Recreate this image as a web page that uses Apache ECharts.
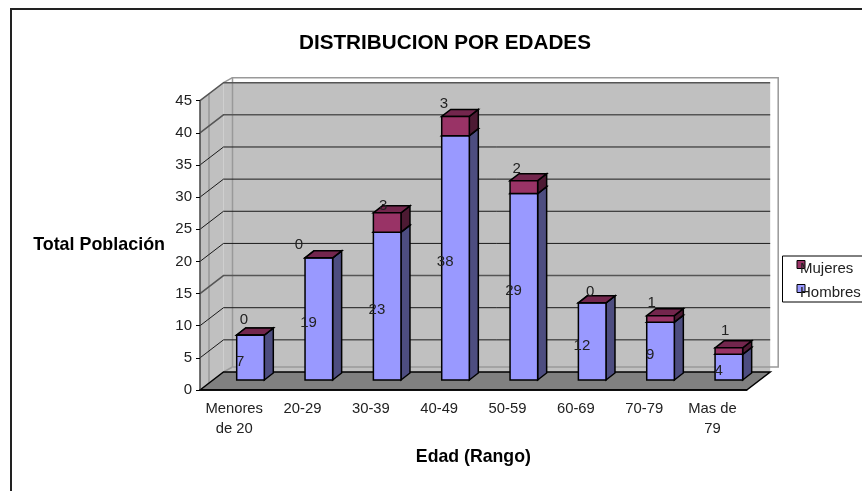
<!doctype html>
<html lang="es">
<head>
    <meta charset="UTF-8">
    <script src="https://cdn.jsdelivr.net/npm/echarts@6/dist/echarts.min.js"></script>
    <title>Distribucion por edades</title>
    <style>
        html, body { margin: 0; padding: 0; background: #fff; }
    </style>
</head>
<body>
<div id="main" style="width: 862px;height:491px;"></div>
<script>
    // datos de la grafica
    var categories = ['Menores\nde 20', '20-29', '30-39', '40-49', '50-59', '60-69', '70-79', 'Mas de\n79'];
    var hombres = [7, 19, 23, 38, 29, 12, 9, 4];
    var mujeres = [0, 0, 3, 3, 2, 0, 1, 1];
    var yTicks = [5, 10, 15, 20, 25, 30, 35, 40, 45];

    // medidas del falso 3D, en pixeles
    var wallDx = 23.5, wallDy = 18;    // fondo de la caja
    var frameDx = 32.5, frameDy = 23;  // marco gris detras de la pared
    var barDx = 9, barDy = 7;          // fondo de cada barra
    var barShiftX = 36.7, barShiftY = 10, barWidth = 27.6;
    // Excel coloca las etiquetas de arriba un poco donde quiere
    var topLabelDx = [7.3, -6, 9.7, 2.3, 6.7, 11.7, 5, 10];
    var topLabelDy = [-15, -13, -7, -13, -12, -11, -13, -17];

    var fontName = '"Liberation Sans", Arial, sans-serif';
    var textColor = '#222';

    function poly(points, fill, lineWidth, stroke) {
        return {
            type: 'polygon',
            shape: {points: points},
            style: {fill: fill, stroke: stroke || '#000', lineWidth: lineWidth}
        };
    }

    function line(points, color, width) {
        return {
            type: 'polyline',
            shape: {points: points},
            style: {fill: 'none', stroke: color, lineWidth: width}
        };
    }

    // paredes, suelo y marco gris
    function renderWalls(params, api) {
        var box = params.coordSys;
        var x0 = box.x, x1 = box.x + box.width;
        var top = box.y, bottom = box.y + box.height;
        var fx = x0 + frameDx, fy = top - frameDy, fb = bottom - frameDy, fr = x1 + frameDx - 1;
        var midX = x0 + 9, midDy = 9 * wallDy / wallDx;
        return {
            type: 'group',
            children: [
                poly([[x0, top], [x0 + wallDx, top - wallDy], [x0 + wallDx, bottom - wallDy], [x0, bottom]], '#c0c0c0', 0, 'none'),
                poly([[x0 + wallDx, top - wallDy], [x1 + wallDx, top - wallDy], [x1 + wallDx, bottom - wallDy], [x0 + wallDx, bottom - wallDy]], '#c0c0c0', 0, 'none'),
                line([[fx, fb], [fx, fy], [fr, fy], [fr, fb], [fx, fb]], '#999', 1.5),
                line([[x0 + wallDx, top - wallDy], [fx, fy]], '#999', 1.5),
                line([[x0 + wallDx, bottom - wallDy], [fx, fb]], '#999', 1.5),
                line([[midX, top - midDy], [midX, bottom - midDy]], '#999', 1.5),
                poly([[x0, bottom], [x0 + wallDx, bottom - wallDy], [x1 + wallDx, bottom - wallDy], [x1, bottom]], '#808080', 1.5)
            ]
        };
    }

    // lineas de division, pasan por la pared izquierda y la del fondo
    function renderGrid(params, api) {
        var box = params.coordSys;
        var y = api.coord([0, api.value(0)])[1];
        var strong = api.value(0) === 40 || api.value(0) === 45 || api.value(0) === 15;
        return line([
            [box.x, y],
            [box.x + wallDx, y - wallDy],
            [box.x + box.width + wallDx, y - wallDy]
        ], strong ? '#555' : '#1a1a1a', strong ? 1.5 : 1);
    }

    function barShape(api, index, base, topValue, colors) {
        var catWidth = api.size([1, 0])[0];
        var left = api.coord([index, 0])[0] - catWidth / 2 + barShiftX;
        var right = left + barWidth;
        var yBase = api.coord([index, base])[1] - barShiftY;
        var yTop = api.coord([index, topValue])[1] - barShiftY;
        return {
            left: left,
            yBase: yBase,
            yTop: yTop,
            children: [
                poly([[right, yBase], [right + barDx, yBase - barDy], [right + barDx, yTop - barDy], [right, yTop]], colors.side, 1.5),
                poly([[left, yTop], [left + barDx, yTop - barDy], [right + barDx, yTop - barDy], [right, yTop]], colors.top, 1.5),
                poly([[left, yBase], [right, yBase], [right, yTop], [left, yTop]], colors.front, 1.5)
            ]
        };
    }

    function label(text, x, y) {
        return {
            type: 'text',
            style: {
                x: x, y: y, text: String(text), fill: textColor,
                font: '15px ' + fontName, align: 'center', verticalAlign: 'middle'
            }
        };
    }

    function renderHombres(params, api) {
        var i = api.value(0), v = api.value(1);
        var bar = barShape(api, i, 0, v, {front: '#9999ff', side: '#4d4d80', top: '#7a7acc'});
        bar.children.push(label(v, bar.left + 3.5, (bar.yBase + bar.yTop) / 2 + 4));
        return {type: 'group', children: bar.children};
    }

    function renderMujeres(params, api) {
        var i = api.value(0), base = api.value(1), v = api.value(2);
        var bar = barShape(api, i, base, base + v, {front: '#993366', side: '#4d1a33', top: '#73264d'});
        bar.children.push(label(v, bar.left + topLabelDx[i], bar.yTop + topLabelDy[i]));
        return {type: 'group', children: bar.children};
    }

    var myChart = echarts.init(document.getElementById('main'));

    var option = {
        animation: false,
        backgroundColor: '#fff',
        textStyle: {fontFamily: fontName, color: textColor},
        title: {
            text: 'DISTRIBUCION POR EDADES',
            left: 294,
            top: 28,
            textStyle: {fontFamily: fontName, fontSize: 20.7, fontWeight: 'bold', color: '#000'}
        },
        legend: {
            data: ['Mujeres', 'Hombres'],
            orient: 'vertical',
            left: 796.5,
            top: 260,
            padding: 0,
            itemGap: 6,
            itemWidth: 8,
            itemHeight: 17,
            // el cuadrito queda arriba y el texto mas abajo, como en el original
            icon: 'path://M0,0L8,0L8,8L0,8Z M0,17L0,17',
            itemStyle: {borderColor: '#000', borderWidth: 1},
            textStyle: {fontFamily: fontName, fontSize: 15, color: textColor, padding: [0, 0, 0, -10]}
        },
        graphic: [{
            type: 'rect',
            silent: true,
            z: -10,
            shape: {x: 11, y: 9, width: 900, height: 600},
            style: {fill: 'none', stroke: '#222', lineWidth: 2}
        }, {
            type: 'rect',
            silent: true,
            z: -10,
            shape: {x: 782.5, y: 256, width: 90, height: 46},
            style: {fill: '#fff', stroke: '#000', lineWidth: 1}
        }],
        grid: {left: 200, right: 115.3, top: 100.7, bottom: 101},
        xAxis: {
            type: 'category',
            data: categories,
            name: 'Edad (Rango)',
            nameLocation: 'middle',
            nameGap: 58.5,
            nameTextStyle: {fontFamily: fontName, fontSize: 17.7, fontWeight: 'bold', color: '#000'},
            z: 6,
            axisLine: {lineStyle: {color: '#000', width: 1.5}},
            axisTick: {length: 5, lineStyle: {color: '#000'}},
            axisLabel: {fontFamily: fontName, fontSize: 14.8, color: textColor, lineHeight: 20, margin: 9, interval: 0},
            splitLine: {show: false}
        },
        yAxis: {
            type: 'value',
            min: 0,
            max: 45,
            interval: 5,
            name: 'Total Población',
            nameLocation: 'middle',
            nameRotate: 0,
            nameGap: 35,
            nameTextStyle: {fontFamily: fontName, fontSize: 17.9, fontWeight: 'bold', color: '#000', padding: [2, 0, 0, 0]},
            z: 6,
            axisLine: {show: true, lineStyle: {color: '#444', width: 1.5}},
            axisTick: {show: true, length: 4, lineStyle: {color: '#000'}},
            axisLabel: {fontFamily: fontName, fontSize: 15, color: textColor, margin: 8},
            splitLine: {show: false}
        },
        series: [
            {name: 'muros', type: 'custom', clip: false, silent: true, z: 1, renderItem: renderWalls, data: [[0, 0]]},
            {
                name: 'grid', type: 'custom', clip: false, silent: true, z: 2, renderItem: renderGrid,
                encode: {y: 0}, data: yTicks.map(function (v) { return [v]; })
            },
            {
                name: 'Hombres', type: 'custom', clip: false, silent: true, z: 3,
                itemStyle: {color: '#9999ff'},
                renderItem: renderHombres,
                encode: {x: 0, y: 1},
                data: hombres.map(function (v, i) { return [i, v]; })
            },
            {
                name: 'Mujeres', type: 'custom', clip: false, silent: true, z: 4,
                itemStyle: {color: '#993366'},
                renderItem: renderMujeres,
                encode: {x: 0, y: [1, 2]},
                data: mujeres.map(function (v, i) { return [i, hombres[i], v]; })
            }
        ]
    };

    myChart.setOption(option);
</script>
</body>
</html>
